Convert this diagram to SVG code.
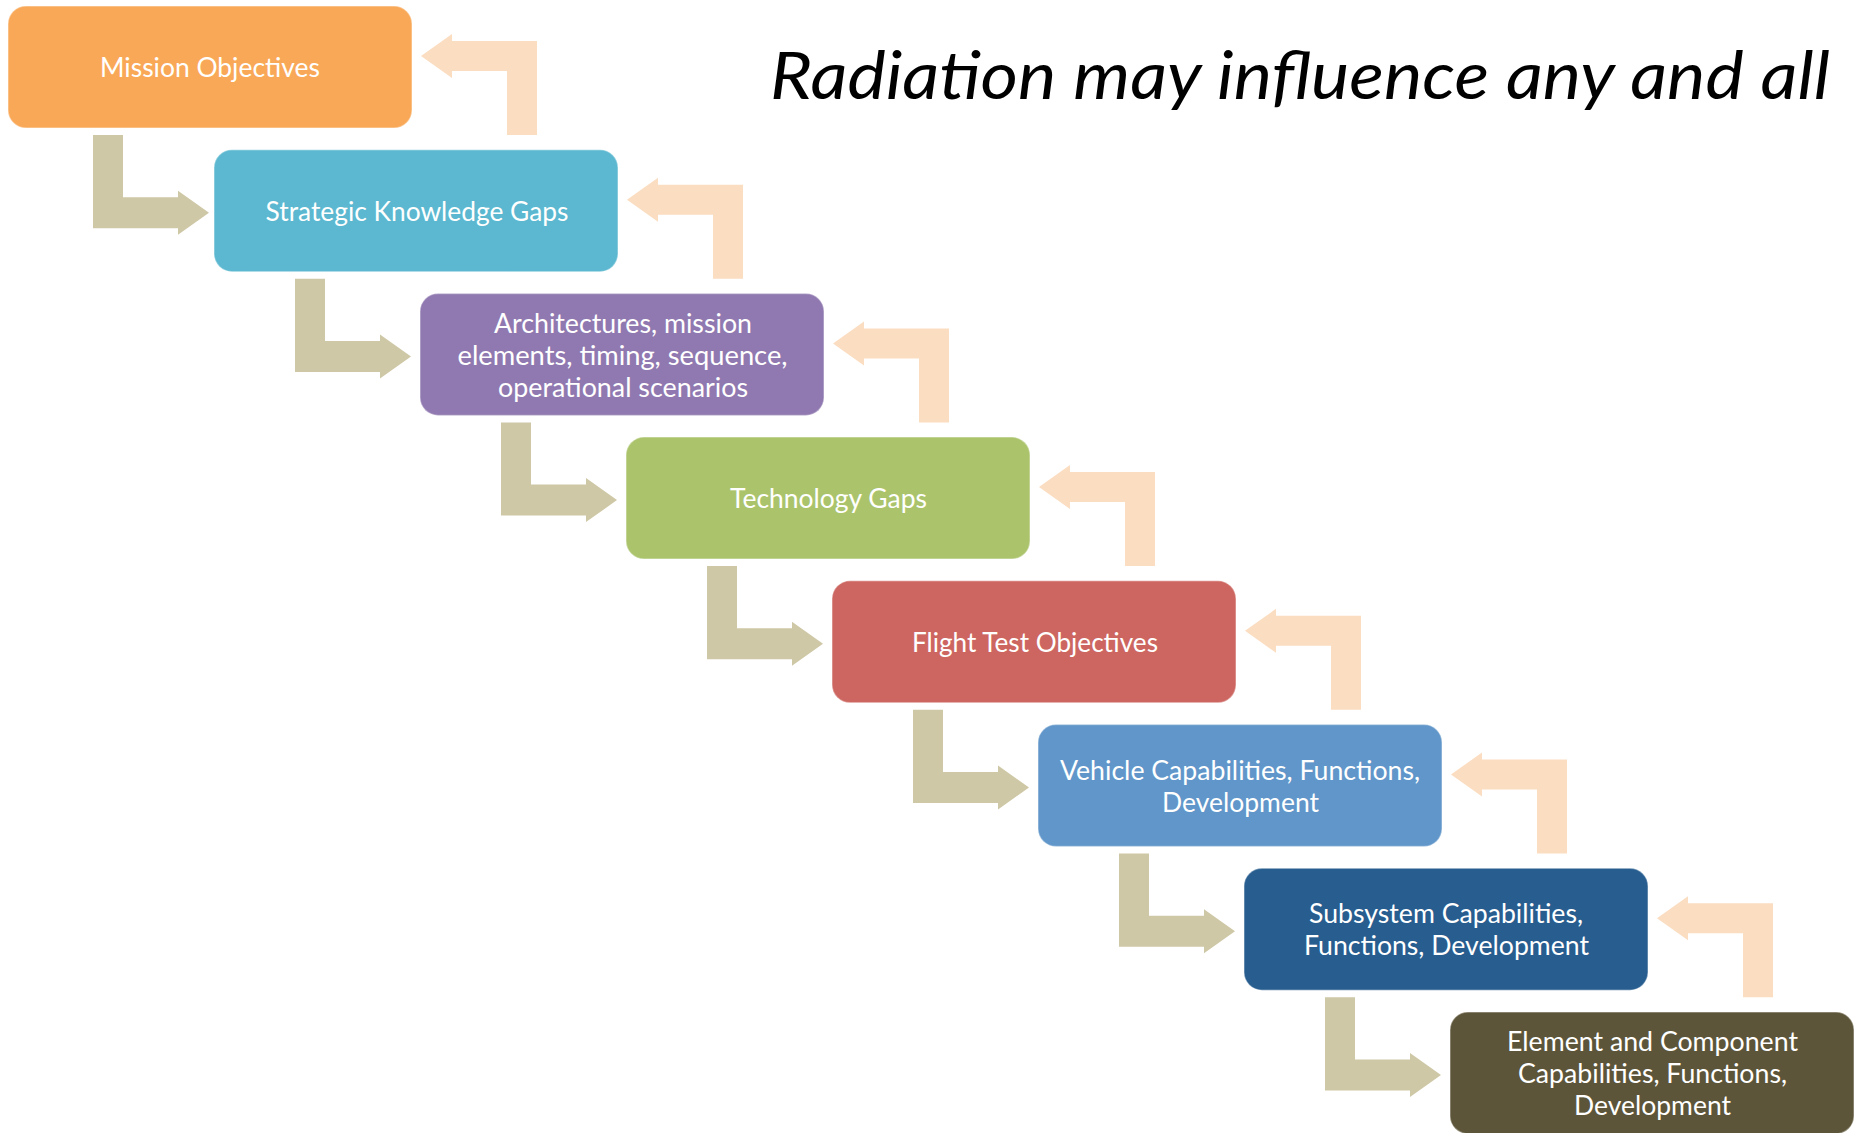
<svg xmlns="http://www.w3.org/2000/svg" xmlns:xlink="http://www.w3.org/1999/xlink" width="1862" height="1133" viewBox="0 0 1862 1133">
<style>
.box{stroke:#ffffff;stroke-opacity:0.35;stroke-width:1.5}
.lbl{font-family:Lato,"Open Sans","Liberation Sans",sans-serif;font-size:26px;fill:#ffffff;text-anchor:middle}
.title{font-family:Lato,"Open Sans","Liberation Sans",sans-serif;font-style:italic;font-size:65px;fill:#000000}
.fwd{fill:#CFC8A6}
.back{fill:#FBDDC1}
</style>
<defs>
<path id="fwdArrow" d="M81,129 H111 V191.2 H166 V184.7 L197,206.7 L166,228.7 V222.2 H81 Z"/>
<path id="backArrow" d="M413,50 L444,28 V35 H529 V129 H499 V65 H444 V72 Z"/>
</defs>
<rect width="1862" height="1133" fill="#ffffff"/>
<text class="title" x="770" y="99" textLength="1060" lengthAdjust="spacingAndGlyphs">Radiation may influence any and all</text>
<g id="connectors">
<use href="#fwdArrow" class="fwd" transform="translate(12,6)"/>
<use href="#fwdArrow" class="fwd" transform="translate(214,149.7)"/>
<use href="#fwdArrow" class="fwd" transform="translate(420,293.4)"/>
<use href="#fwdArrow" class="fwd" transform="translate(626,437.1)"/>
<use href="#fwdArrow" class="fwd" transform="translate(832,580.8)"/>
<use href="#fwdArrow" class="fwd" transform="translate(1038,724.5)"/>
<use href="#fwdArrow" class="fwd" transform="translate(1244,868.2)"/>
<use href="#backArrow" class="back" transform="translate(8,6)"/>
<use href="#backArrow" class="back" transform="translate(214,149.7)"/>
<use href="#backArrow" class="back" transform="translate(420,293.4)"/>
<use href="#backArrow" class="back" transform="translate(626,437.1)"/>
<use href="#backArrow" class="back" transform="translate(832,580.8)"/>
<use href="#backArrow" class="back" transform="translate(1038,724.5)"/>
<use href="#backArrow" class="back" transform="translate(1244,868.2)"/>
</g>
<g id="node-mission">
<rect class="box" x="8" y="6" width="404" height="122" rx="18" fill="#F9A857"/>
<text class="lbl" x="210" y="77" textLength="220" lengthAdjust="spacingAndGlyphs">Mission Objectives</text>
</g>
<g id="node-skg">
<rect class="box" x="214" y="149.7" width="404" height="122" rx="18" fill="#5BB8D0"/>
<text class="lbl" x="417" y="221" textLength="303" lengthAdjust="spacingAndGlyphs">Strategic Knowledge Gaps</text>
</g>
<g id="node-arch">
<rect class="box" x="420" y="293.4" width="404" height="122" rx="18" fill="#9079B0"/>
<text class="lbl" x="623" y="332.5" textLength="258" lengthAdjust="spacingAndGlyphs">Architectures, mission</text>
<text class="lbl" x="622.5" y="364.5" textLength="330" lengthAdjust="spacingAndGlyphs">elements, timing, sequence,</text>
<text class="lbl" x="623" y="396.5" textLength="250" lengthAdjust="spacingAndGlyphs">operational scenarios</text>
</g>
<g id="node-tech">
<rect class="box" x="626" y="437.1" width="404" height="122" rx="18" fill="#ABC46C"/>
<text class="lbl" x="828.5" y="508" textLength="197" lengthAdjust="spacingAndGlyphs">Technology Gaps</text>
</g>
<g id="node-flight">
<rect class="box" x="832" y="580.8" width="404" height="122" rx="18" fill="#CD6660"/>
<text class="lbl" x="1035" y="652" textLength="246" lengthAdjust="spacingAndGlyphs">Flight Test Objectives</text>
</g>
<g id="node-vehicle">
<rect class="box" x="1038" y="724.5" width="404" height="122" rx="18" fill="#6096C9"/>
<text class="lbl" x="1240" y="779.5" textLength="360" lengthAdjust="spacingAndGlyphs">Vehicle Capabilities, Functions,</text>
<text class="lbl" x="1240.5" y="811.5" textLength="157" lengthAdjust="spacingAndGlyphs">Development</text>
</g>
<g id="node-subsystem">
<rect class="box" x="1244" y="868.2" width="404" height="122" rx="18" fill="#275D8F"/>
<text class="lbl" x="1446" y="923" textLength="274" lengthAdjust="spacingAndGlyphs">Subsystem Capabilities,</text>
<text class="lbl" x="1446.5" y="955" textLength="285" lengthAdjust="spacingAndGlyphs">Functions, Development</text>
</g>
<g id="node-element">
<rect class="box" x="1450" y="1011.9" width="404" height="122" rx="18" fill="#5D5539"/>
<text class="lbl" x="1652.5" y="1051" textLength="291" lengthAdjust="spacingAndGlyphs">Element and Component</text>
<text class="lbl" x="1652.5" y="1083" textLength="269" lengthAdjust="spacingAndGlyphs">Capabilities, Functions,</text>
<text class="lbl" x="1652.5" y="1115" textLength="157" lengthAdjust="spacingAndGlyphs">Development</text>
</g>
</svg>
